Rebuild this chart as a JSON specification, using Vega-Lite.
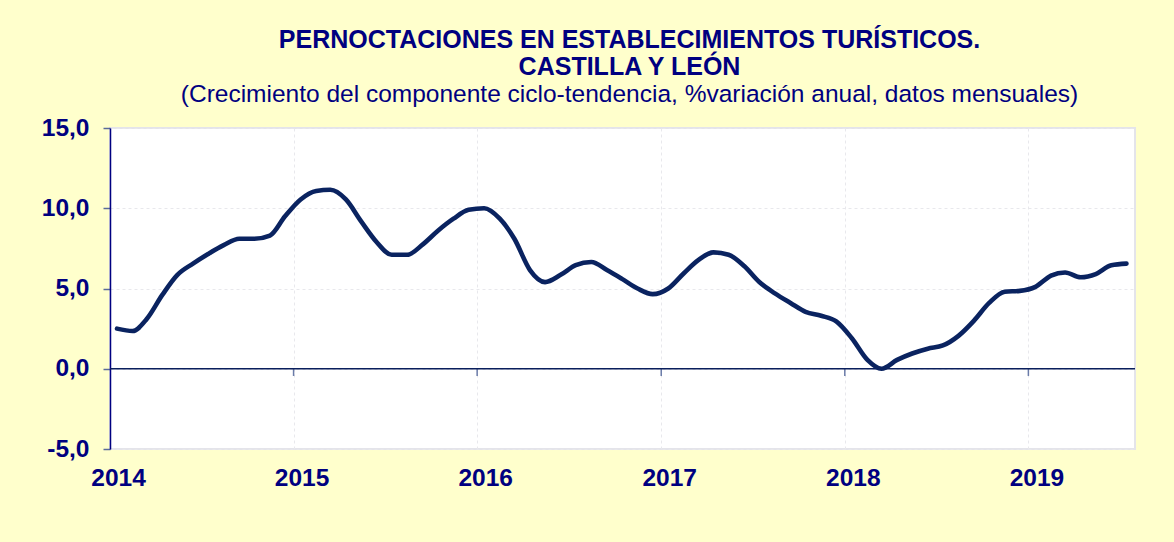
{
  "$schema": "https://vega.github.io/schema/vega-lite/v6.json",
  "width": 1025,
  "height": 321,
  "autosize": "none",
  "padding": {"left": 110, "top": 128, "right": 39, "bottom": 93},
  "background": "#FFFFCC",
  "config": {
    "view": {"fill": "#FFFFFF", "stroke": "#E4E4EA", "strokeWidth": 2},
    "font": "Liberation Sans"
  },
  "title": {
    "text": ["PERNOCTACIONES EN ESTABLECIMIENTOS TURÍSTICOS.", "CASTILLA Y  LEÓN"],
    "subtitle": "(Crecimiento del componente ciclo-tendencia, %variación anual, datos mensuales)",
    "font": "Liberation Sans",
    "fontSize": 25,
    "fontWeight": "bold",
    "color": "#000080",
    "subtitleFont": "Liberation Sans",
    "subtitleFontSize": 24.5,
    "subtitleFontWeight": "normal",
    "subtitleColor": "#000080",
    "anchor": "middle",
    "lineHeight": 27.6,
    "subtitleLineHeight": 27,
    "subtitlePadding": 2,
    "offset": 9,
    "dx": 7
  },
  "datasets": {
    "series": [
      {"date": "2014-01-15", "value": 2.5},
      {"date": "2014-02-15", "value": 2.35},
      {"date": "2014-03-15", "value": 3.1},
      {"date": "2014-04-15", "value": 4.6},
      {"date": "2014-05-15", "value": 5.85},
      {"date": "2014-06-15", "value": 6.55},
      {"date": "2014-07-15", "value": 7.15},
      {"date": "2014-08-15", "value": 7.7},
      {"date": "2014-09-15", "value": 8.1},
      {"date": "2014-10-15", "value": 8.1},
      {"date": "2014-11-15", "value": 8.3},
      {"date": "2014-12-15", "value": 9.5},
      {"date": "2015-01-15", "value": 10.55},
      {"date": "2015-02-15", "value": 11.08},
      {"date": "2015-03-15", "value": 11.15},
      {"date": "2015-04-15", "value": 10.55},
      {"date": "2015-05-15", "value": 9.2},
      {"date": "2015-06-15", "value": 7.9},
      {"date": "2015-07-15", "value": 7.1},
      {"date": "2015-08-15", "value": 7.1},
      {"date": "2015-09-15", "value": 7.75},
      {"date": "2015-10-15", "value": 8.6},
      {"date": "2015-11-15", "value": 9.35},
      {"date": "2015-12-15", "value": 9.9},
      {"date": "2016-01-15", "value": 10.0},
      {"date": "2016-02-15", "value": 9.35},
      {"date": "2016-03-15", "value": 8.1},
      {"date": "2016-04-15", "value": 6.15},
      {"date": "2016-05-15", "value": 5.4},
      {"date": "2016-06-15", "value": 5.85},
      {"date": "2016-07-15", "value": 6.45},
      {"date": "2016-08-15", "value": 6.65},
      {"date": "2016-09-15", "value": 6.15},
      {"date": "2016-10-15", "value": 5.6},
      {"date": "2016-11-15", "value": 5.0},
      {"date": "2016-12-15", "value": 4.65},
      {"date": "2017-01-15", "value": 5.0},
      {"date": "2017-02-15", "value": 5.95},
      {"date": "2017-03-15", "value": 6.75},
      {"date": "2017-04-15", "value": 7.25},
      {"date": "2017-05-15", "value": 7.1},
      {"date": "2017-06-15", "value": 6.4},
      {"date": "2017-07-15", "value": 5.4},
      {"date": "2017-08-15", "value": 4.7},
      {"date": "2017-09-15", "value": 4.1},
      {"date": "2017-10-15", "value": 3.55},
      {"date": "2017-11-15", "value": 3.3},
      {"date": "2017-12-15", "value": 2.95},
      {"date": "2018-01-15", "value": 1.9},
      {"date": "2018-02-15", "value": 0.55},
      {"date": "2018-03-15", "value": 0.0},
      {"date": "2018-04-15", "value": 0.55},
      {"date": "2018-05-15", "value": 0.95},
      {"date": "2018-06-15", "value": 1.25},
      {"date": "2018-07-15", "value": 1.45},
      {"date": "2018-08-15", "value": 2.05},
      {"date": "2018-09-15", "value": 3.0},
      {"date": "2018-10-15", "value": 4.1},
      {"date": "2018-11-15", "value": 4.8},
      {"date": "2018-12-15", "value": 4.85},
      {"date": "2019-01-15", "value": 5.1},
      {"date": "2019-02-15", "value": 5.8},
      {"date": "2019-03-15", "value": 6.0},
      {"date": "2019-04-15", "value": 5.7},
      {"date": "2019-05-15", "value": 5.9},
      {"date": "2019-06-15", "value": 6.45},
      {"date": "2019-07-15", "value": 6.55}
    ],
    "years": [
      {"date": "2015-01-01"},
      {"date": "2016-01-01"},
      {"date": "2017-01-01"},
      {"date": "2018-01-01"},
      {"date": "2019-01-01"}
    ],
    "zero": [
      {"value": 0}
    ]
  },
  "layer": [
    {
      "data": {"name": "years"},
      "mark": {"type": "rule", "color": "#6A7BA8", "strokeWidth": 1.5},
      "encoding": {
        "x": {
          "field": "date", "type": "temporal", "title": null,
          "scale": {"type": "utc", "domain": [{"year": 2014, "month": 1, "date": 1, "utc": true}, {"year": 2019, "month": 8, "date": 1, "utc": true}]},
          "axis": {
            "values": [{"year": 2014, "month": 1, "date": 1, "utc": true}, {"year": 2015, "month": 1, "date": 1, "utc": true}, {"year": 2016, "month": 1, "date": 1, "utc": true}, {"year": 2017, "month": 1, "date": 1, "utc": true}, {"year": 2018, "month": 1, "date": 1, "utc": true}, {"year": 2019, "month": 1, "date": 1, "utc": true}],
            "format": "%Y", "formatType": "utc",
            "domain": false, "ticks": false,
            "labelFont": "Liberation Sans", "labelFontSize": 24.5, "labelFontWeight": "bold", "labelColor": "#000080",
            "labelPadding": 17, "labelOffset": 8, "labelFlush": false, "labelOverlap": false,
            "grid": true, "gridColor": "#E8E8EC", "gridDash": [3, 3], "gridWidth": 1,
            "title": null
          }
        },
        "y": {"datum": 0, "type": "quantitative", "title": null},
        "y2": {"datum": -0.45}
      }
    },
    {
      "data": {"name": "zero"},
      "mark": {"type": "rule", "color": "#0A1F5C", "strokeWidth": 1.5},
      "encoding": {
        "y": {"field": "value", "type": "quantitative", "title": null}
      }
    },
    {
      "data": {"name": "series"},
      "mark": {"type": "line", "color": "#0A2360", "strokeWidth": 4.6, "interpolate": "monotone", "strokeCap": "round", "strokeJoin": "round"},
      "encoding": {
        "x": {
          "field": "date", "type": "temporal", "title": null,
          "scale": {"type": "utc", "domain": [{"year": 2014, "month": 1, "date": 1, "utc": true}, {"year": 2019, "month": 8, "date": 1, "utc": true}]},
          "axis": {
            "values": [{"year": 2014, "month": 1, "date": 1, "utc": true}, {"year": 2015, "month": 1, "date": 1, "utc": true}, {"year": 2016, "month": 1, "date": 1, "utc": true}, {"year": 2017, "month": 1, "date": 1, "utc": true}, {"year": 2018, "month": 1, "date": 1, "utc": true}, {"year": 2019, "month": 1, "date": 1, "utc": true}],
            "format": "%Y", "formatType": "utc",
            "domain": false, "ticks": false,
            "labelFont": "Liberation Sans", "labelFontSize": 24.5, "labelFontWeight": "bold", "labelColor": "#000080",
            "labelPadding": 17, "labelOffset": 8, "labelFlush": false, "labelOverlap": false,
            "grid": true, "gridColor": "#E8E8EC", "gridDash": [3, 3], "gridWidth": 1,
            "title": null
          }
        },
        "y": {
          "field": "value", "type": "quantitative", "title": null,
          "scale": {"domain": [-5, 15], "nice": false, "zero": false},
          "axis": {
            "values": [-5, 0, 5, 10, 15],
            "labelExpr": "replace(replace(format(datum.value, '.1f'), '.', ','), '\u2212', '-')",
            "domainColor": "#000080", "domainWidth": 1.5,
            "tickColor": "#5A6A9A", "tickSize": 7, "tickWidth": 1.5,
            "labelFont": "Liberation Sans", "labelFontSize": 24.5, "labelFontWeight": "bold", "labelColor": "#000080",
            "labelPadding": 14, "labelFlush": false, "labelOverlap": false,
            "grid": true, "gridColor": "#E8E8EC", "gridDash": [3, 3], "gridWidth": 1,
            "title": null
          }
        }
      }
    }
  ]
}
